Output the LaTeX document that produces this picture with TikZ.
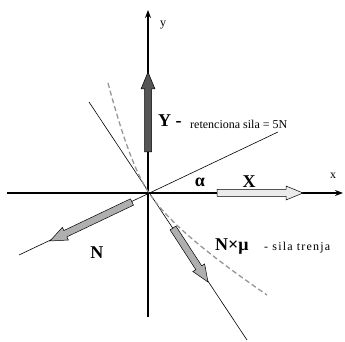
\documentclass[tikz,border=0pt]{standalone}
\usepackage{fontspec}
\setmainfont{Liberation Serif}
\usepackage{tikz}
\usetikzlibrary{arrows.meta,calc,positioning}
\definecolor{ydark}{RGB}{85,85,85}
\definecolor{nmid}{RGB}{175,175,175}
\definecolor{xlight}{RGB}{235,235,235}
\definecolor{curvegray}{RGB}{150,150,150}
% wide force arrow: from, to, fill colour
\newcommand{\forcearrow}[3]{%
  \filldraw[fill=#3,line width=0.5pt,line join=miter]
    ($(#1)!3.5pt!90:(#2)$) -- ($(#2)!17pt!(#1)!3.5pt!-90:(#1)$) -- ($(#2)!17pt!(#1)!7pt!-90:(#1)$)
    -- (#2) -- ($(#2)!17pt!(#1)!7pt!90:(#1)$) -- ($(#2)!17pt!(#1)!3.5pt!90:(#1)$)
    -- ($(#1)!3.5pt!-90:(#2)$) -- cycle;}

\begin{document}
\begin{tikzpicture}[x=1pt,y=1pt,>={Stealth[length=8pt,width=6pt]},
  axis/.style={line width=1.6pt},
  thinline/.style={line width=0.6pt},
  lbl/.style={font=\bfseries\fontsize{18}{18}\selectfont,inner sep=0pt},
  small/.style={font=\fontsize{12}{12}\selectfont,inner sep=0pt}]
  \useasboundingbox (-149,-149) rectangle (196,193);
  \coordinate (O) at (0,0);
  % axes
  \coordinate (xl) at (-142,0); \coordinate (xr) at (194,0);
  \coordinate (yb) at (-1,-124); \coordinate (yt) at (-1,183);
  \draw[axis,->] (xl) -- (xr);
  \draw[axis,->] (yb) -- (yt);
  \node[small] (ylab) at (14,168) {y};
  \node[small] (xlab) at (184,17) {x};
  % inclined lines
  \coordinate (nA) at (-130,-62); \coordinate (nB) at (129,61);
  \coordinate (mA) at (-60,91); \coordinate (mB) at (98,-147);
  \draw[thinline] (nA) -- (nB);
  \draw[thinline] (mA) -- (mB);
  \coordinate (cA) at (-41,110); \coordinate (cB) at (118,-102);
  \draw[curvegray,line width=1.3pt,dash pattern=on 5pt off 3pt]
    (cA) .. controls (-25,50) and (-12,18) .. (O) .. controls (20,-30) and (60,-62) .. (cB);
  % forces
  \coordinate (Ya) at (-1,41); \coordinate (Yb) at (-1,121);
  \coordinate (Xa) at (68,0); \coordinate (Xb) at (154,0);
  \coordinate (Na) at (-17,-9); \coordinate (Nb) at (-99,-48);
  \coordinate (Fa) at (24,-35); \coordinate (Fb) at (59,-89);
  \forcearrow{Ya}{Yb}{ydark}
  \forcearrow{Xa}{Xb}{xlight}
  \forcearrow{Na}{Nb}{nmid}
  \forcearrow{Fa}{Fb}{nmid}
  % labels
  \node[lbl,anchor=west] (Ylab) at (9,72) {Y -};
  \node[small,anchor=west] (Ytxt) at (41,69) {retenciona sila = 5N};
  \node[lbl] (alab) at (51,11) {α};
  \node[lbl] (Xlab) at (100,11) {X};
  \node[lbl] (Nlab) at (-52,-60) {N};
  \node[lbl,anchor=west] (Flab) at (66,-54) {N×μ};
  \node[small,anchor=west] (Ftxt) at (115,-55) {\addfontfeatures{LetterSpace=10}- sila trenja};
\end{tikzpicture}
\end{document}
